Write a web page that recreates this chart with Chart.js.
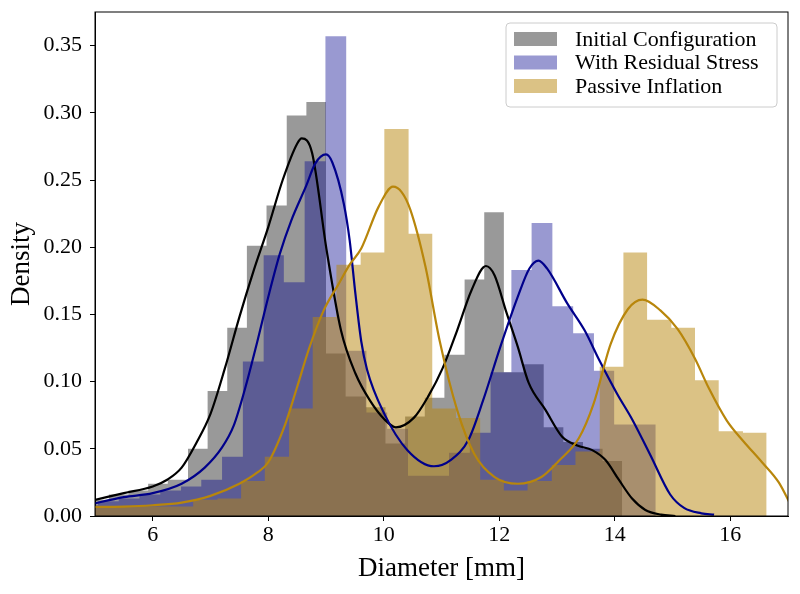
<!DOCTYPE html>
<html>
<head>
<meta charset="utf-8">
<script src="https://cdn.jsdelivr.net/npm/chart.js@4.4.1/dist/chart.umd.min.js"></script>
<style>
  html, body { margin: 0; padding: 0; background: #fff; }
</style>
</head>
<body>
<canvas id="myChart" width="800" height="594"></canvas>
<script>
// tick labels
const xTicks = [6, 8, 10, 12, 14, 16];
const yTicks = [0, 0.05, 0.10, 0.15, 0.20, 0.25, 0.30, 0.35];

// histogram bins (edges in mm, density per bin)
const grayEdges = [4.90, 5.24, 5.58, 5.92, 6.26, 6.61, 6.95, 7.29, 7.63, 7.97, 8.32, 8.66, 9.00, 9.34,
    9.69, 10.03, 10.37, 10.71, 11.05, 11.40, 11.74, 12.08, 12.42, 12.77, 13.11, 13.45, 13.79, 14.13];
const grayHeights = [0.012, 0.016, 0.019, 0.024, 0.027, 0.050, 0.093, 0.140, 0.201, 0.231, 0.298, 0.308, 0.121,
    0.089, 0.081, 0.054, 0.074, 0.088, 0.120, 0.176, 0.226, 0.107, 0.113, 0.066, 0.055, 0.050, 0.041];

const blueEdges = [4.70, 5.05, 5.41, 5.77, 6.13, 6.49, 6.84, 7.20, 7.56, 7.92, 8.27, 8.63, 8.99, 9.35,
    9.70, 10.06, 10.42, 10.78, 11.13, 11.49, 11.85, 12.21, 12.56, 12.92, 13.28, 13.64, 13.99, 14.35, 14.71];
const blueHeights = [0.008, 0.011, 0.013, 0.016, 0.019, 0.022, 0.027, 0.044, 0.115, 0.194, 0.174, 0.264, 0.357,
    0.123, 0.077, 0.065, 0.030, 0.030, 0.047, 0.062, 0.107, 0.183, 0.218, 0.156, 0.136, 0.108, 0.068, 0.068];

const goldEdges = [4.63, 5.05, 5.46, 5.87, 6.29, 6.70, 7.12, 7.53, 7.94, 8.36, 8.77, 9.18, 9.60, 10.01,
    10.43, 10.84, 11.25, 11.67, 12.08, 12.49, 12.91, 13.32, 13.74, 14.15, 14.56, 14.98, 15.39, 15.80, 16.22, 16.63];
const goldHeights = [0.007, 0.007, 0.007, 0.007, 0.007, 0.012, 0.013, 0.026, 0.044, 0.080, 0.148, 0.187, 0.196,
    0.288, 0.210, 0.080, 0.073, 0.027, 0.019, 0.026, 0.038, 0.048, 0.111, 0.196, 0.146, 0.140, 0.101, 0.063, 0.062];

// kde curves, sampled by eye
const blackKdeX = [4.9, 5.5, 6.0, 6.25, 6.5, 6.75, 7.0, 7.25, 7.5, 7.75, 8.0, 8.25, 8.5, 8.58, 8.76, 9.01, 9.26,
    9.51, 9.76, 10.01, 10.21, 10.52, 10.77, 11.02, 11.27, 11.52, 11.77, 11.92, 12.12, 12.32, 12.51, 12.8, 13.09,
    13.35, 13.61, 13.84, 14.07, 14.3, 14.53, 14.8, 15.05];
const blackKdeY = [0.011, 0.017, 0.022, 0.027, 0.036, 0.054, 0.076, 0.110, 0.148, 0.183, 0.215, 0.250, 0.277,
    0.281, 0.270, 0.198, 0.138, 0.106, 0.086, 0.072, 0.066, 0.073, 0.089, 0.110, 0.138, 0.168, 0.186, 0.179,
    0.152, 0.126, 0.099, 0.079, 0.059, 0.0525, 0.049, 0.0416, 0.027, 0.013, 0.0045, 0.001, 0];

const blueKdeX = [4.9, 5.5, 6.0, 6.5, 6.9, 7.2, 7.4, 7.6, 7.8, 8.0, 8.2, 8.4, 8.66, 8.81, 9.0, 9.11, 9.31,
    9.41, 9.51, 9.61, 9.71, 10.01, 10.41, 10.87, 11.17, 11.47, 11.72, 12.02, 12.32, 12.52, 12.68, 12.83,
    13.18, 13.48, 13.72, 14.04, 14.3, 14.62, 14.96, 15.2, 15.5, 15.72];
const blueKdeY = [0.0085, 0.014, 0.017, 0.024, 0.036, 0.051, 0.067, 0.095, 0.128, 0.163, 0.195, 0.220, 0.246,
    0.262, 0.269, 0.263, 0.232, 0.205, 0.165, 0.130, 0.109, 0.076, 0.049, 0.037, 0.042, 0.057, 0.086, 0.126,
    0.163, 0.184, 0.190, 0.184, 0.158, 0.138, 0.117, 0.091, 0.072, 0.045, 0.016, 0.006, 0.002, 0.001];

const goldKdeX = [4.9, 5.5, 6.0, 6.5, 7.0, 7.5, 7.8, 8.0, 8.3, 8.5, 8.71, 8.96, 9.21, 9.41, 9.61, 9.91, 10.16,
    10.31, 10.46, 10.72, 10.97, 11.27, 11.57, 11.92, 12.32, 12.73, 13.03, 13.38, 13.63, 13.93, 14.23, 14.48,
    14.79, 15.09, 15.39, 15.63, 15.94, 16.22, 16.55, 16.84, 17.05];
const goldKdeY = [0.0067, 0.007, 0.008, 0.010, 0.015, 0.024, 0.032, 0.040, 0.069, 0.096, 0.125, 0.153, 0.172,
    0.187, 0.199, 0.230, 0.245, 0.241, 0.228, 0.186, 0.130, 0.079, 0.046, 0.029, 0.024, 0.029, 0.041, 0.058,
    0.083, 0.128, 0.154, 0.161, 0.153, 0.139, 0.117, 0.095, 0.071, 0.056, 0.040, 0.025, 0.008];

const seriesNames = ['Initial Configuration', 'With Residual Stress', 'Passive Inflation'];

const serif = "'Liberation Serif', 'DejaVu Serif', serif";

function histPoints(edges, heights) {
    let pts = [{ x: edges[0], y: 0 }];
    heights.forEach((h, i) => {
        pts.push({ x: edges[i], y: h });
        pts.push({ x: edges[i + 1], y: h });
    });
    pts.push({ x: edges[edges.length - 1], y: 0 });
    return pts;
}

function kdePoints(xs, ys) {
    return xs.map((x, i) => ({ x: x, y: ys[i] }));
}

function histDataset(label, edges, heights, color, order, row) {
    return {
        label: label,
        data: histPoints(edges, heights),
        backgroundColor: color,
        borderColor: 'rgba(0,0,0,0)',
        borderWidth: 0,
        fill: 'origin',
        tension: 0,
        pointRadius: 0,
        order: order,
        legendRow: row
    };
}

function kdeDataset(xs, ys, color, order) {
    return {
        data: kdePoints(xs, ys),
        borderColor: color,
        borderWidth: 2.2,
        fill: false,
        pointRadius: 0,
        cubicInterpolationMode: 'monotone',
        order: order
    };
}

// matplotlib-like frame around the plot
const axesBox = {
    id: 'axesBox',
    afterDatasetsDraw(chart) {
        const { ctx, chartArea: a } = chart;
        ctx.save();
        ctx.strokeStyle = '#000';
        ctx.lineWidth = 1;
        ctx.strokeRect(a.left, a.top, a.right - a.left, a.bottom - a.top);
        ctx.restore();
    }
};

// legend in upper right corner, with frame
const boxLegend = {
    id: 'boxLegend',
    afterDraw(chart) {
        const { ctx, chartArea: a } = chart;
        const items = chart.data.datasets
            .filter(d => d.legendRow !== undefined)
            .sort((p, q) => p.legendRow - q.legendRow);
        ctx.save();
        ctx.font = '22px ' + serif;
        let textW = 0;
        items.forEach(d => { textW = Math.max(textW, ctx.measureText(d.label).width); });
        const patchW = 43, patchH = 14, rowH = 23.5;
        const w = Math.max(271, 8 + patchW + 18 + textW + 10);
        const h = 84;
        const x0 = a.right - 11 - w;
        const y0 = a.top + 11;
        const r = 4;
        ctx.beginPath();
        ctx.moveTo(x0 + r, y0);
        ctx.lineTo(x0 + w - r, y0);
        ctx.arcTo(x0 + w, y0, x0 + w, y0 + r, r);
        ctx.lineTo(x0 + w, y0 + h - r);
        ctx.arcTo(x0 + w, y0 + h, x0 + w - r, y0 + h, r);
        ctx.lineTo(x0 + r, y0 + h);
        ctx.arcTo(x0, y0 + h, x0, y0 + h - r, r);
        ctx.lineTo(x0, y0 + r);
        ctx.arcTo(x0, y0, x0 + r, y0, r);
        ctx.closePath();
        ctx.fillStyle = 'rgba(255,255,255,0.8)';
        ctx.fill();
        ctx.strokeStyle = '#cccccc';
        ctx.lineWidth = 1;
        ctx.stroke();
        items.forEach((d, i) => {
            const cy = y0 + 16 + i * rowH;
            ctx.fillStyle = d.backgroundColor;
            ctx.fillRect(x0 + 8, cy - patchH / 2, patchW, patchH);
            ctx.fillStyle = '#000';
            ctx.textBaseline = 'middle';
            ctx.textAlign = 'left';
            ctx.fillText(d.label, x0 + 8 + patchW + 18, cy + 1);
        });
        ctx.restore();
    }
};

function createChart() {
    const ctx = document.getElementById('myChart').getContext('2d');
    const tickFont = { family: serif, size: 22 };
    const titleFont = { family: serif, size: 27, lineHeight: 1.2 };
    const config = {
        type: 'line',
        data: {
            datasets: [
                kdeDataset(goldKdeX, goldKdeY, '#b8860b', 1),
                kdeDataset(blueKdeX, blueKdeY, '#00008b', 2),
                kdeDataset(blackKdeX, blackKdeY, '#000000', 3),
                histDataset(seriesNames[2], goldEdges, goldHeights, 'rgba(184,134,11,0.5)', 4, 2),
                histDataset(seriesNames[1], blueEdges, blueHeights, 'rgba(0,0,139,0.4)', 5, 1),
                histDataset(seriesNames[0], grayEdges, grayHeights, 'rgba(0,0,0,0.4)', 6, 0)
            ]
        },
        options: {
            responsive: false,
            animation: false,
            devicePixelRatio: 1,
            layout: { padding: { left: 0, right: 12, top: 12, bottom: 0 } },
            plugins: {
                legend: { display: false },
                tooltip: { enabled: false }
            },
            scales: {
                x: {
                    type: 'linear',
                    min: 5,
                    max: 17,
                    afterBuildTicks: axis => { axis.ticks = xTicks.map(v => ({ value: v })); },
                    afterFit: s => { s.height = 78; s.paddingLeft = 0; s.paddingRight = 0; },
                    ticks: { color: '#000', font: tickFont, padding: 1, maxRotation: 0, autoSkip: false,
                        callback: v => String(v) },
                    grid: { drawOnChartArea: false, drawTicks: true, tickLength: 5, color: '#000' },
                    border: { display: true, color: '#000', width: 1 },
                    title: { display: true, text: 'Diameter [mm]', color: '#000', font: titleFont,
                        padding: { top: 0, bottom: 9 } }
                },
                y: {
                    type: 'linear',
                    min: 0,
                    max: 0.375,
                    afterBuildTicks: axis => { axis.ticks = yTicks.map(v => ({ value: v })); },
                    afterFit: s => { s.width = 95; s.paddingTop = 0; s.paddingBottom = 0; },
                    ticks: { color: '#000', font: tickFont, padding: 8, autoSkip: false,
                        callback: v => v.toFixed(2) },
                    grid: { drawOnChartArea: false, drawTicks: true, tickLength: 5, color: '#000' },
                    border: { display: true, color: '#000', width: 1 },
                    title: { display: true, text: 'Density', color: '#000', font: titleFont,
                        padding: { top: 6, bottom: 0 } }
                }
            }
        },
        plugins: [axesBox, boxLegend]
    };
    return new Chart(ctx, config);
}

createChart();
</script>
</body>
</html>
